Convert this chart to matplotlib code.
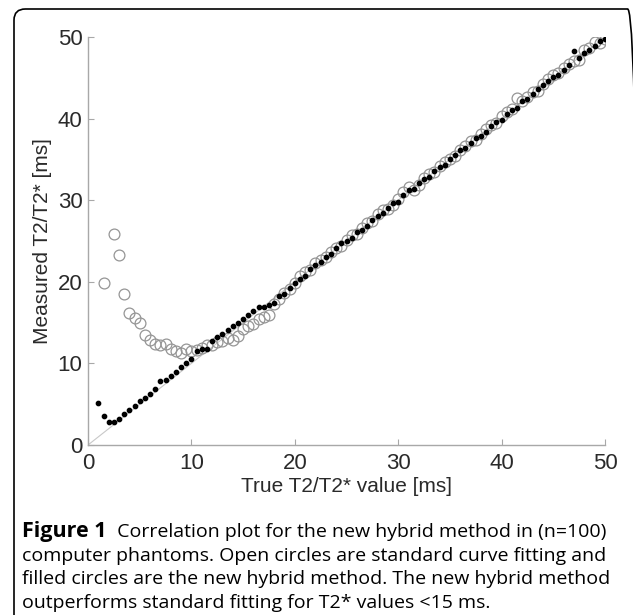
import numpy as np
import matplotlib
matplotlib.use('Agg')
import matplotlib.pyplot as plt
from matplotlib.patches import FancyBboxPatch

# true T2/T2* values of the phantoms [ms]
true_t2 = [1.0, 1.5, 2.0, 2.5, 3.0, 3.5, 4.0, 4.5, 5.0, 5.5,
           6.0, 6.5, 7.0, 7.5, 8.0, 8.5, 9.0, 9.5, 10.0, 10.5,
           11.0, 11.5, 12.0, 12.5, 13.0, 13.5, 14.0, 14.5, 15.0, 15.5,
           16.0, 16.5, 17.0, 17.5, 18.0, 18.5, 19.0, 19.5, 20.0, 20.5,
           21.0, 21.5, 22.0, 22.5, 23.0, 23.5, 24.0, 24.5, 25.0, 25.5,
           26.0, 26.5, 27.0, 27.5, 28.0, 28.5, 29.0, 29.5, 30.0, 30.5,
           31.0, 31.5, 32.0, 32.5, 33.0, 33.5, 34.0, 34.5, 35.0, 35.5,
           36.0, 36.5, 37.0, 37.5, 38.0, 38.5, 39.0, 39.5, 40.0, 40.5,
           41.0, 41.5, 42.0, 42.5, 43.0, 43.5, 44.0, 44.5, 45.0, 45.5,
           46.0, 46.5, 47.0, 47.5, 48.0, 48.5, 49.0, 49.5, 50.0]

# new hybrid method (filled circles)
hybrid = [5.2, 3.5, 2.8, 2.8, 3.2, 3.8, 4.3, 4.8, 5.4, 5.8,
          6.3, 6.9, 7.8, 8.0, 8.4, 9.0, 9.5, 10.0, 10.5, 11.5,
          11.8, 11.8, 12.8, 13.2, 13.6, 14.1, 14.6, 15.0, 15.4, 15.9,
          16.4, 16.9, 16.9, 17.1, 17.4, 18.2, 18.5, 19.3, 19.8, 20.3,
          20.7, 21.6, 22.1, 22.4, 23.1, 23.4, 24.1, 24.7, 25.0, 25.4,
          26.1, 26.4, 26.8, 27.6, 28.1, 28.4, 29.1, 29.6, 29.8, 30.6,
          31.2, 31.4, 32.1, 32.6, 32.9, 33.6, 34.1, 34.3, 35.1, 35.6,
          36.1, 36.4, 37.0, 37.6, 37.9, 38.3, 39.1, 39.6, 39.8, 40.6,
          41.1, 41.3, 42.1, 42.4, 43.0, 43.6, 44.1, 44.6, 45.1, 45.4,
          46.0, 46.6, 48.3, 47.4, 48.1, 48.4, 48.9, 49.5, 49.8]

# standard curve fitting (open circles), nan = off the chart
standard = [np.nan, 19.8, np.nan, 25.8, 23.3, 18.5, 16.2, 15.6, 15.0, 13.5,
            12.9, 12.4, 12.3, 12.4, 11.8, 11.5, 11.3, 11.8, 11.5, 11.7,
            11.9, 12.2, 12.3, 12.6, 12.8, 13.1, 12.9, 13.3, 14.2, 14.6,
            14.8, 15.5, 15.7, 15.9, 17.3, 17.9, 18.6, 19.1, 19.8, 20.7,
            21.2, 21.4, 22.3, 22.7, 23.0, 23.7, 24.2, 24.4, 25.1, 25.7,
            25.9, 26.6, 27.2, 27.4, 28.3, 28.8, 28.9, 29.4, 30.2, 31.0,
            31.6, 31.2, 31.9, 32.7, 33.2, 33.4, 34.2, 34.7, 35.0, 35.4,
            36.2, 36.7, 37.2, 37.4, 38.1, 38.7, 39.2, 39.4, 40.3, 40.8,
            41.2, 42.5, 42.2, 42.6, 43.3, 43.4, 44.2, 44.9, 45.3, 45.6,
            46.2, 46.7, 47.0, 47.2, 48.4, 48.7, 49.4, 49.3, 49.7]

tick_vals = [0, 10, 20, 30, 40, 50]

fig = plt.figure(figsize=(6.33, 6.15), dpi=100)

# rounded frame around the figure panel (right and bottom edges run off the image)
frame = FancyBboxPatch((14 / 633, -0.2), (639 - 14) / 633, 1.2 - 9 / 615,
                       boxstyle='round,pad=0,rounding_size=0.018',
                       transform=fig.transFigure, fill=False,
                       edgecolor='black', linewidth=1.2, clip_on=False)
fig.patches.append(frame)

ax = fig.add_axes([88 / 633, 1 - 445 / 615, (605 - 88) / 633, (445 - 37) / 615])

axcol = '#a8a8a8'
ax.plot([0, 50], [0, 50], color='#c8c8c8', linewidth=0.8, zorder=1)
ax.plot(true_t2, standard, linestyle='none', marker='o', markersize=7.8,
        markerfacecolor='none', markeredgecolor='#959595', markeredgewidth=0.9, zorder=2)
ax.plot(true_t2, hybrid, linestyle='none', marker='o', markersize=3.1,
        markerfacecolor='black', markeredgecolor='black', zorder=3)

ax.set_xlim(0, 50)
ax.set_ylim(0, 50)
ax.set_xticks(tick_vals)
ax.set_yticks(tick_vals)
for sp in ['top', 'right']:
    ax.spines[sp].set_visible(False)
for sp in ['left', 'bottom']:
    ax.spines[sp].set_color(axcol)
    ax.spines[sp].set_linewidth(1.0)
ax.tick_params(direction='in', length=4, width=0.8, color=axcol,
               labelsize=16, labelcolor='#2a2a2a')
ax.tick_params(axis='x', pad=6)
ax.tick_params(axis='y', pad=4)
for lab in ax.get_xticklabels() + ax.get_yticklabels():
    lab.set_family('Liberation Sans')

ax.set_xlabel('True T2/T2* value [ms]', fontsize=15, family='Liberation Sans',
              color='#2a2a2a', labelpad=2)
ax.set_ylabel('Measured T2/T2* [ms]', fontsize=15, family='Liberation Sans',
              color='#2a2a2a', labelpad=4)

# caption
cap_font = 'Open Sans'
cap_size = 14
cx = 22 / 633
t = fig.text(cx, 1 - 532 / 615, 'Figure 1', fontsize=15.5, family=cap_font,
             fontweight='bold', va='center', ha='left')
fig.canvas.draw()
bb = t.get_window_extent()
fig.text(bb.x1 / 633 + 0.008, 1 - 532 / 615,
         ' Correlation plot for the new hybrid method in (n=100)',
         fontsize=cap_size, family=cap_font, va='center', ha='left')
lines = ['computer phantoms. Open circles are standard curve fitting and',
         'filled circles are the new hybrid method. The new hybrid method',
         'outperforms standard fitting for T2* values <15 ms.']
for i, ln in enumerate(lines):
    fig.text(cx, 1 - (556 + 23.3 * i) / 615, ln, fontsize=cap_size,
             family=cap_font, va='center', ha='left')

fig.savefig('out.png', dpi=100)
